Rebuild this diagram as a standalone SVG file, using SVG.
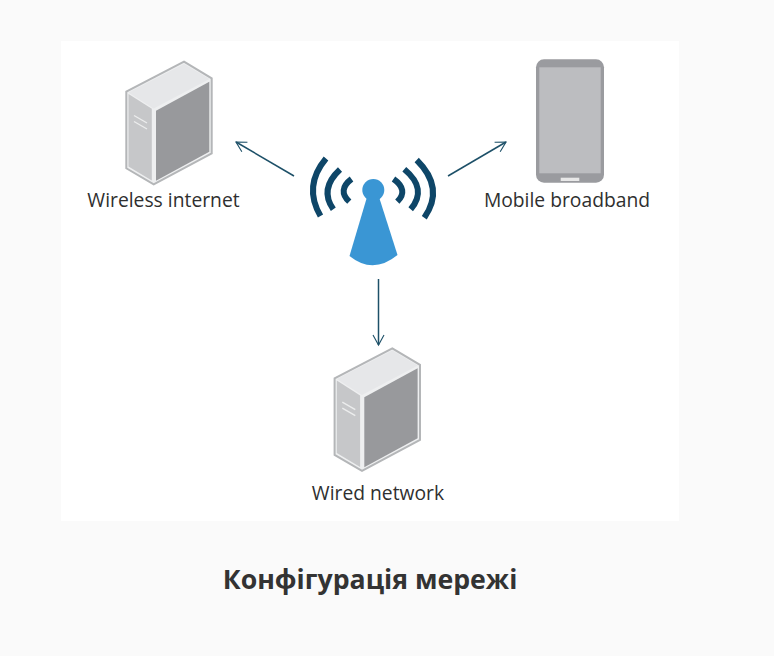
<svg xmlns="http://www.w3.org/2000/svg" width="774" height="656" viewBox="0 0 774 656">
<style>
.lbl{font-family:"Open Sans","Noto Sans",sans-serif;font-size:19.300px;fill:#2f2f2f;text-anchor:middle}
.ttl{font-family:"Open Sans","Noto Sans",sans-serif;font-size:26.700px;font-weight:700;fill:#333;text-anchor:middle}
.wave{fill:none;stroke:#0e4668;stroke-width:6}
.conn{fill:none;stroke:#1d5068;stroke-width:1.5;marker-end:url(#arrow)}
</style>
<defs>
<marker id="arrow" markerUnits="userSpaceOnUse" markerWidth="18" markerHeight="18" refX="13" refY="8" orient="auto">
<path d="M3,2.500L13,8L3,13.500" fill="none" stroke="#1d5068" stroke-width="1.100"/>
</marker>
<g id="server">
<path d="M184,61.700L211.700,78.300V153.300L153.700,184.300L126.300,168.300V91.700Z" fill="#eeeff0" stroke="#b4b6b8" stroke-width="2"/>
<path d="M184,64L209.500,79L153.700,108.500L128.500,92.500Z" fill="#e6e7e9"/>
<path d="M128.500,94L151.800,108.800V180.500L128.500,166.500Z" fill="#c6c7c9"/>
<path d="M156,110.700L209.300,81.700V151.700L156,180.700Z" fill="#98999c"/>
<path d="M134,115.500L147,123M134,121.500L147,129" stroke="#eceded" stroke-width="1.400" fill="none"/>
</g>
</defs>
<rect width="774" height="656" fill="#fafafa"/>
<rect x="61" y="41" width="618" height="480" fill="#fff"/>
<g id="connectors">
<path class="conn" d="M294,176L236,142"/>
<path class="conn" d="M448,176L506,142"/>
<path class="conn" d="M378.500,279V345"/>
</g>
<g id="antenna">
<path class="wave" d="M326,158.500Q303,186 320.500,216"/>
<path class="wave" d="M340,169.500Q319,189 333.300,209.300"/>
<path class="wave" d="M351.500,179Q337,190 349.300,201.700"/>
<path class="wave" d="M416.700,160Q445,188 424.300,217.700"/>
<path class="wave" d="M404.300,169.300Q428,189 410.700,209.300"/>
<path class="wave" d="M393.500,179Q409,190 397.300,201.700"/>
<circle cx="373.300" cy="190" r="11" fill="#3a96d4"/>
<path d="M367,197L349.500,256Q373,275 397.500,255L379,197Z" fill="#3a96d4"/>
</g>
<g id="wireless-internet">
<use href="#server"/>
<text class="lbl" x="163.500" y="206.500">Wireless internet</text>
</g>
<g id="mobile-broadband">
<rect x="536" y="59.300" width="68" height="123.400" rx="8" fill="#9a9b9f"/>
<rect x="539.300" y="67.300" width="61.400" height="106" fill="#bcbdc0"/>
<rect x="560.700" y="177.700" width="18.600" height="3.300" fill="#e8e8e8"/>
<text class="lbl" x="567" y="206.500">Mobile broadband</text>
</g>
<g id="wired-network">
<use href="#server" x="208.300" y="286.600"/>
<text class="lbl" x="378" y="499.500">Wired network</text>
</g>
<text class="ttl" x="370" y="589">Конфігурація мережі</text>
</svg>
